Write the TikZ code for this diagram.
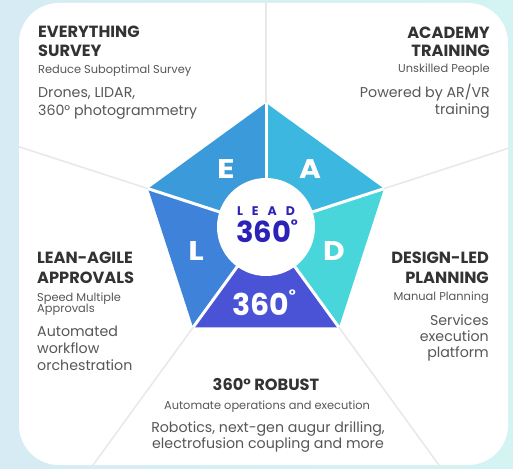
\documentclass[tikz,border=0pt]{standalone}
\usepackage{fontspec}
\setmainfont{Poppins}
\usetikzlibrary{calc}

\definecolor{bgleft}{HTML}{D6EBF3}
\definecolor{bgright}{HTML}{D3F4F3}
\definecolor{segE}{HTML}{3B9BDA}
\definecolor{segA}{HTML}{3CB7DF}
\definecolor{segD}{HTML}{48D6DA}
\definecolor{segR}{HTML}{4A53D5}
\definecolor{segL}{HTML}{3F82DA}
\definecolor{leadblue}{HTML}{2C22B8}
\definecolor{headgray}{HTML}{333333}
\definecolor{textgray}{HTML}{575757}

\newcommand{\TextLines}[7]{% name,style,anchor,x,first baseline,skip,lines
    \foreach \t [count=\i] in {#7}
        \node[#2,anchor=#3] (#1\i) at (#4,{#5+#6*(\i-1)}) {\t};
}
% small raised degree ring
\newcommand{\Deg}[2]{\raisebox{#2}{\fontsize{#1}{#1}\selectfont°}}

\tikzset{
    head/.style={font=\fontsize{16.2}{18}\selectfont\bfseries, text=headgray, inner sep=0pt},
    sub/.style={font=\fontsize{11.4}{12}\selectfont, text=textgray, inner sep=0pt},
    body/.style={font=\fontsize{14.2}{16}\selectfont, text=textgray, inner sep=0pt},
    letter/.style={font=\fontsize{27}{27}\selectfont\bfseries, text=white, inner sep=0pt},
    ray/.style={draw=black!9, line width=1.5pt},
    sep/.style={draw=white, line width=3pt}
}

\begin{document}
\begin{tikzpicture}[x=1pt,y=-1pt]
        % background and card
        \fill[left color=bgleft,right color=bgright] (0,0) rectangle (513,468);
        \fill[white,rounded corners=40pt] (19,3) rectangle (508,465);

        % pentagon corners
        \coordinate (c) at (266,227);
        \foreach \a [count=\i] in {-90,198,126,54,-18} {
            \coordinate (v\i) at ({266+124*cos(\a)},{227+124*sin(\a)});
            \coordinate (r\i) at ({266+400*cos(\a)},{227+400*sin(\a)});
        }

        % faint rays out to the card edge
        \begin{scope}
            \clip[rounded corners=40pt] (19,3) rectangle (508,465);
            \foreach \i in {1,...,5}
                \draw[ray] (c) -- (r\i);
        \end{scope}

        % the five sectors
        \fill[segE] (c) -- (v1) -- (v2) -- cycle;
        \fill[segL] (c) -- (v2) -- (v3) -- cycle;
        \fill[segR] (c) -- (v3) -- (v4) -- cycle;
        \fill[segD] (c) -- (v4) -- (v5) -- cycle;
        \fill[segA] (c) -- (v5) -- (v1) -- cycle;
        \foreach \i in {1,...,5}
            \draw[sep] (c) -- (v\i);

        \node[circle,fill=white,minimum size=98pt,inner sep=0pt] (hub) at (c) {};
        \node[font=\fontsize{12.5}{13}\selectfont\bfseries,text=leadblue,inner sep=0pt,anchor=base]
            (lead) at (266,215) {\makebox[58pt][s]{L\hfill E\hfill A\hfill D}};
        \node[font=\fontsize{29}{29}\selectfont\bfseries,text=leadblue,inner sep=0pt,anchor=base]
            (hub360) at (267,242) {360\Deg{15}{12pt}};

        \node[letter] (lE) at (226,169) {\scalebox{1.2}[1]{E}};
        \node[letter] (lA) at (310,169) {\scalebox{1.1}[1]{A}};
        \node[letter] (lL) at (196,251) {\scalebox{1.2}[1]{L}};
        \node[letter] (lD) at (334,251) {\scalebox{1.1}[1]{D}};
        \node[letter,font=\fontsize{30}{30}\selectfont\bfseries,anchor=base] (l360) at (264,315) {360\Deg{15}{15pt}};

        % top left
        \TextLines{survH}{head}{base west}{38}{38}{19}{EVERYTHING,SURVEY}
        \TextLines{survS}{sub}{base west}{38}{73.5}{12}{Reduce Suboptimal Survey}
        \TextLines{survB}{body}{base west}{38}{98}{17}{{Drones, LIDAR,},{360° photogrammetry}}

        % top right
        \TextLines{acadH}{head}{base east}{490}{38.5}{18.5}{ACADEMY,TRAINING}
        \TextLines{acadS}{sub}{base east}{490}{73}{12}{Unskilled People}
        \TextLines{acadB}{body}{base east}{490}{97}{17}{Powered by AR/VR,training}

        % left
        \TextLines{leanH}{head}{base west}{37}{263.5}{19.5}{LEAN-AGILE,APPROVALS}
        \TextLines{leanS}{sub}{base west}{37}{301}{11.5}{Speed Multiple,Approvals}
        \TextLines{leanB}{body}{base west}{37}{336}{17}{Automated,workflow,orchestration}

        % right
        \TextLines{desH}{head}{base east}{489}{263.5}{19.5}{DESIGN-LED,PLANNING}
        \TextLines{desS}{sub}{base east}{489}{300}{12}{Manual Planning}
        \TextLines{desB}{body}{base east}{489}{325}{16}{Services,execution,platform}

        % bottom
        \TextLines{robH}{head}{base}{266}{390}{19}{360° ROBUST}
        \TextLines{robS}{sub}{base}{267}{409}{12}{Automate operations and execution}
        \TextLines{robB}{body}{base}{268}{432}{16}{{Robotics, next-gen augur drilling,},{electrofusion coupling and more}}
\end{tikzpicture}
\end{document}
